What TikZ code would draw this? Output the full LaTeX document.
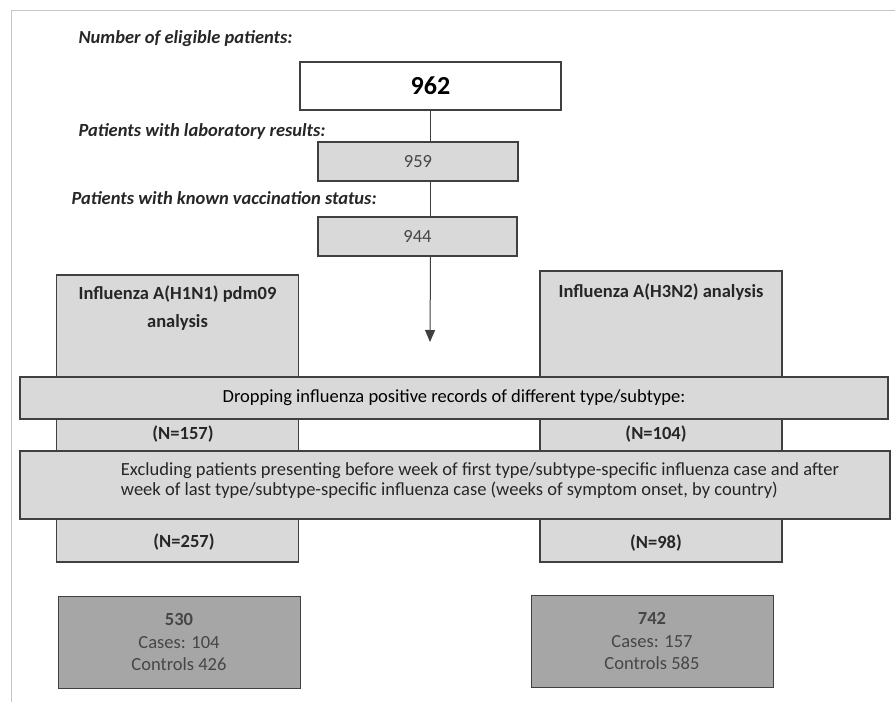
\documentclass[tikz,border=0pt]{standalone}
\usepackage{fontspec}
\setmainfont{Carlito}
\usetikzlibrary{arrows.meta}
\definecolor{boxgray}{RGB}{217,217,217}
\definecolor{darkbox}{RGB}{166,166,166}
\definecolor{edge}{RGB}{64,64,64}
\definecolor{txtgray}{RGB}{70,70,70}
\begin{document}
\begin{tikzpicture}[x=1pt,y=-1pt,
  box/.style={draw=edge, line width=1.3pt, fill=boxgray, inner sep=0pt, font=\fontsize{18.5}{20}\selectfont},
  resultbox/.style={draw=edge, line width=1pt, fill=darkbox, inner sep=0pt, align=center, text=txtgray,
    minimum width=242pt, minimum height=92pt, font=\fontsize{18.5}{22.5}\selectfont},
  head/.style={anchor=west, font=\fontsize{18.5}{20}\selectfont\bfseries\itshape, text=black!85},
  bold/.style={font=\fontsize{18.5}{20}\selectfont\bfseries, text=black!85, align=center}]
\useasboundingbox (0,0) rectangle (895,702);
\draw[gray!45, line width=1pt] (11,702) -- (11,10) -- (895,10);
% counts down the middle
\node[head] (hElig) at (75,39) {Number of eligible patients:};
\node[box, fill=white, minimum width=261pt, minimum height=48pt, font=\fontsize{26}{30}\selectfont\bfseries] (n962) at (430.5,86) {962};
\node[head] (hLab) at (75,131) {Patients with laboratory results:};
\node[box, minimum width=200pt, minimum height=39pt, text=txtgray] (n959) at (418,161.5) {959};
\node[head] (hVac) at (68,198) {Patients with known vaccination status:};
\node[box, minimum width=199pt, minimum height=39pt, text=txtgray] (n944) at (417.5,236.5) {944};
\coordinate (tip) at (430,342);
\draw[edge, line width=1pt] (n962.south) -- (n962.south |- n959.north);
\draw[edge, line width=1pt] (n962.south |- n959.south) -- (n962.south |- n944.north);
\draw[edge, line width=1pt, -{Triangle[width=10pt,length=12pt]}] (n962.south |- n944.south) -- (tip);
% the two analysis columns
\node[box, minimum width=242pt, minimum height=287pt] (colA) at (177.5,418.5) {};
\node[box, minimum width=242pt, minimum height=291pt] (colB) at (661,416.5) {};
\node[bold, font=\fontsize{18.5}{28}\selectfont\bfseries] (tA) at (177.5,308) {Influenza A(H1N1) pdm09\\analysis};
\node[bold] (tB) at (661,292) {Influenza A(H3N2) analysis};
\node[box, minimum width=868pt, minimum height=42pt] (drop) at (454,398) {Dropping influenza positive records of different type/subtype:};
\node[bold] (nA1) at (183,434) {(N=157)};
\node[bold] (nB1) at (656,434) {(N=104)};
\node[box, minimum width=870pt, minimum height=68pt] (excl) at (455,485) {};
\node[align=left, font=\fontsize{18.5}{20}\selectfont, text=black!85] (exclT) at (480,481) {Excluding patients presenting before week of first type/subtype-specific influenza case and after\\week of last type/subtype-specific influenza case (weeks of symptom onset, by country)};
\node[bold] (nA2) at (184,542) {(N=257)};
\node[bold] (nB2) at (656,543) {(N=98)};
% final case/control counts
\node[resultbox] (resA) at (179,642) {\textbf{530}\\Cases: 104\\Controls 426};
\node[resultbox] (resB) at (652,641) {\textbf{742}\\Cases: 157\\Controls 585};
\end{tikzpicture}
\end{document}
